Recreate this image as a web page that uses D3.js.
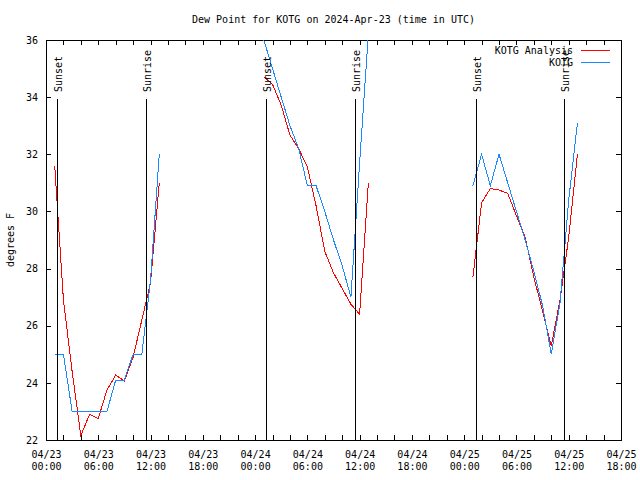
<!DOCTYPE html>
<html><head><meta charset="utf-8">
<script src="https://cdn.jsdelivr.net/npm/d3@7"></script>
<style>
body{margin:0;background:#fff;}
svg{display:block;background:#fff;}
text{font-family:"DejaVu Sans Mono",monospace;font-size:10px;fill:#000;}
</style></head><body>
<svg id="chart" width="640" height="480"></svg>
<script>
// ---- data ----
const titleText = "Dew Point for KOTG on 2024-Apr-23 (time in UTC)";
const yLabelText = "degrees F";
const seriesNames = ["KOTG Analysis", "KOTG"];
const startTime = "2024-04-23T00:00:00Z";
const endTime = "2024-04-25T18:00:00Z";
const hourOffsets = [1,2,3,4,5,6,7,8,9,10,11,12,13,
                     25,26,27,28,29,30,31,32,33,34,35,36,37,
                     49,50,51,52,53,54,55,56,57,58,59,60,61];
const analysisF = [31.6,26.9,24.4,22.15,22.9,22.75,23.75,24.27,24.07,24.9,26.2,27.5,31.0,
                   34.72,34.45,33.72,32.67,32.2,31.55,30.2,28.6,27.85,27.3,26.75,26.4,31.0,
                   27.7,30.3,30.8,30.75,30.63,29.85,29.1,27.7,26.5,25.3,26.9,29.1,32.0];
const observedF = [25.0,25.0,23.0,23.0,23.0,23.0,23.0,24.1,24.1,25.0,25.0,27.6,32.0,
                   36.0,35.0,34.0,33.0,32.2,30.9,30.9,30.0,29.0,28.1,27.0,31.7,36.2,
                   30.9,32.0,30.9,32.0,31.0,30.0,29.0,27.9,26.7,25.0,26.8,30.4,33.1];
const sunsetHours = [1.23, 25.2, 49.3];
const sunriseHours = [11.52, 35.5, 59.48];
const yTicks = [22,24,26,28,30,32,34,36];
const minorTickHours = 2;
const labelTickHours = 6;

// ---- layout ----
const W = 640, H = 480;
const L = 46, R = 621, T = 40, B = 440;
const colors = ["#ff0000", "#1a88ff"];

const svg = d3.select("#chart");
const t0 = new Date(startTime), t1 = new Date(endTime);
const hourToDate = h => new Date(t0.getTime() + h * 3600e3);

const x = d3.scaleUtc().domain([t0, t1]).range([L, R]);
const y = d3.scaleLinear().domain([22, 36]).range([B, T]);

const font = '"DejaVu Sans Mono", monospace';

// title
svg.append("text").attr("x", (L + R) / 2).attr("y", 23)
  .attr("text-anchor", "middle").text(titleText);

// y label
svg.append("text").attr("transform", `translate(14,${(T + B) / 2}) rotate(-90)`)
  .attr("text-anchor", "middle").text(yLabelText);

// clip
svg.append("clipPath").attr("id", "plotclip")
  .append("rect").attr("x", L).attr("y", T).attr("width", R - L).attr("height", B - T);

// ticks
const minorTicks = d3.utcHour.every(minorTickHours).range(t0, new Date(t1.getTime() + 1));
const labelTicks = d3.utcHour.every(labelTickHours).range(t0, new Date(t1.getTime() + 1));

function styleAxis(g) {
  g.attr("font-family", font).attr("font-size", 10);
  g.select(".domain").remove();
  g.selectAll(".tick line").attr("stroke", "#000").attr("shape-rendering", "crispEdges");
}

svg.append("g").attr("transform", `translate(0,${B})`)
  .call(d3.axisBottom(x).tickValues(minorTicks).tickSize(-5).tickFormat(""))
  .call(styleAxis);
svg.append("g").attr("transform", `translate(0,${T})`)
  .call(d3.axisTop(x).tickValues(minorTicks).tickSize(-5).tickFormat(""))
  .call(styleAxis);

const fmtD = d3.utcFormat("%m/%d"), fmtT = d3.utcFormat("%H:%M");
const gLab = svg.append("g").attr("transform", `translate(0,${B})`)
  .call(d3.axisBottom(x).tickValues(labelTicks).tickSize(0).tickFormat(""))
  .call(styleAxis);
gLab.selectAll(".tick text").each(function (d) {
  const t = d3.select(this).attr("dy", null).attr("y", null).attr("fill", "#000");
  t.append("tspan").attr("x", 0).attr("y", 17.5).text(fmtD(d));
  t.append("tspan").attr("x", 0).attr("y", 30.3).text(fmtT(d));
});

svg.append("g").attr("transform", `translate(${L},0)`)
  .call(d3.axisLeft(y).tickValues(yTicks).tickSize(-5).tickPadding(8).tickFormat(d3.format("d")))
  .call(styleAxis)
  .selectAll(".tick text").attr("fill", "#000");
svg.append("g").attr("transform", `translate(${R},0)`)
  .call(d3.axisRight(y).tickValues(yTicks).tickSize(-5).tickFormat(""))
  .call(styleAxis);

// frame
svg.append("rect").attr("x", L).attr("y", T).attr("width", R - L).attr("height", B - T)
  .attr("fill", "none").attr("stroke", "#000").attr("shape-rendering", "crispEdges");

// series
function segments(vals) {
  const segs = [];
  let cur = [];
  hourOffsets.forEach((h, i) => {
    if (cur.length && h - cur[cur.length - 1].h > 1) { segs.push(cur); cur = []; }
    cur.push({ h, t: hourToDate(h), v: vals[i] });
  });
  if (cur.length) segs.push(cur);
  return segs;
}
const line = d3.line().x(d => x(d.t)).y(d => y(d.v));
const plotG = svg.append("g").attr("clip-path", "url(#plotclip)");
[analysisF, observedF].forEach((vals, si) => {
  plotG.selectAll(null).data(segments(vals)).join("path")
    .attr("d", line).attr("fill", "none").attr("stroke", colors[si])
    .attr("stroke-width", 1).attr("shape-rendering", "crispEdges");
});

// sunrise / sunset markers (drawn in front)
const lineTopY = T + 59;
const sunEvents = sunsetHours.map(h => ({ h, label: "Sunset" }))
  .concat(sunriseHours.map(h => ({ h, label: "Sunrise" })));
sunEvents.forEach(ev => {
  const xp = Math.round(x(hourToDate(ev.h))) + 0.5;
  svg.append("line").attr("x1", xp).attr("x2", xp).attr("y1", lineTopY).attr("y2", B)
    .attr("stroke", "#000").attr("shape-rendering", "crispEdges");
  svg.append("text").attr("transform", `translate(${xp + 4.5},${lineTopY - 7}) rotate(-90)`)
    .attr("text-anchor", "start").text(ev.label);
});

// legend
const legX = 573, legY0 = 50, legDy = 12.5;
seriesNames.forEach((name, i) => {
  const yy = legY0 + i * legDy;
  svg.append("text").attr("x", legX).attr("y", yy).attr("dy", "0.36em")
    .attr("text-anchor", "end").text(name);
  svg.append("line").attr("x1", legX + 8).attr("x2", legX + 37).attr("y1", yy).attr("y2", yy)
    .attr("stroke", colors[i]).attr("shape-rendering", "crispEdges");
});
</script>
</body></html>
